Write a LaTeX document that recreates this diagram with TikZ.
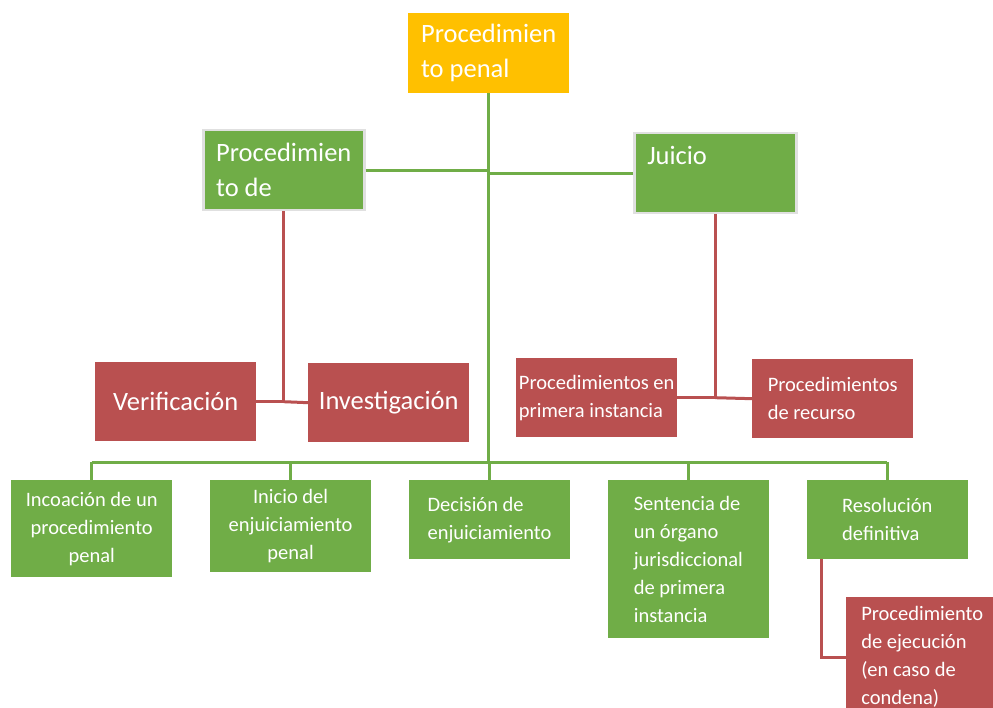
\documentclass[tikz,border=0pt]{standalone}
\usepackage{fontspec}
\setmainfont{Carlito}
\usetikzlibrary{positioning}
\definecolor{boxorange}{HTML}{FFC000}
\definecolor{boxgreen}{HTML}{70AD47}
\definecolor{boxred}{RGB}{185,80,80}
\tikzset{
  box/.style = {rectangle, anchor=north west, inner sep=0pt, text=white, minimum width=161pt},
  bigbox/.style = {box, font=\fontsize{26.5}{35}\selectfont, minimum height=80pt},
  smallbox/.style = {box, font=\fontsize{20.5}{28}\selectfont, minimum height=79pt},
  head/.style = {bigbox, fill=boxorange, align=left},
  stage/.style = {bigbox, fill=boxgreen, draw=black!12, line width=2.5pt, align=left},
  task/.style = {bigbox, fill=boxred, align=center, minimum height=79pt},
  subtask/.style = {smallbox, fill=boxred, align=left},
  phase/.style = {smallbox, fill=boxgreen, align=left},
  gline/.style = {draw=boxgreen, line width=3pt},
  rline/.style = {draw=boxred, line width=3pt}
}

\begin{document}
\begin{tikzpicture}[x=1pt, y=-1pt, node distance=37.5pt]
\useasboundingbox (0,0) rectangle (993,708);
\clip (0,0) rectangle (993,708);

% Top
\node[head] (penal) at (408,13) {Procedimien\\to penal};

% Second level
\node[stage, minimum width=161pt] (instruccion) at (202,129) {Procedimien\\to de};
\node[stage, minimum width=162pt, text width=136pt] (juicio) at (633,132) {Juicio\\\mbox{}};

% Third level
\node[task] (verificacion) at (95,362) {Verificación};
\node[task] (investigacion) at (308,363) {Investigación};
\node[subtask] (primera) at (516,358) {Procedimientos en\\primera instancia};
\node[subtask] (recurso) at (752,359) {Procedimientos\\de recurso};

% Bottom row
\node[phase, align=center, minimum height=97pt] (incoacion) at (11,480) {Incoación de un\\procedimiento\\penal};
\node[phase, align=center, minimum height=92pt, right=of incoacion.north east, anchor=north west] (inicio) {Inicio del\\enjuiciamiento\\penal};
\node[phase, right=of inicio.north east, anchor=north west] (decision) {Decisión de\\enjuiciamiento};
\node[phase, minimum height=158pt, right=of decision.north east, anchor=north west] (sentencia) {Sentencia de\\un órgano\\jurisdiccional\\de primera\\instancia};
\node[phase, right=of sentencia.north east, anchor=north west] (resolucion) {Resolución\\definitiva};
\node[subtask, minimum width=152pt, minimum height=120pt] (ejecucion) at (846,597) {Procedimiento\\de ejecución\\(en caso de\\condena)};

% Connectors
\coordinate (bus) at (488,462);
\draw[gline] (penal.south) -- (penal.south |- bus);
\draw[gline] (instruccion.east) -- (instruccion.east -| penal.south);
\draw[gline] (juicio.west) -- (juicio.west -| penal.south);
\draw[gline] (incoacion.north |- bus) -- (resolucion.north |- bus);
\foreach \n in {incoacion, inicio, decision, sentencia, resolucion}
  \draw[gline] (\n.north |- bus) -- (\n.north);

\draw[rline] (instruccion.south) |- (verificacion.east);
\draw[rline] (instruccion.south |- verificacion.east) -- (investigacion.west);
\draw[rline] (juicio.south) |- (primera.east);
\draw[rline] (juicio.south |- primera.east) -- (recurso.west);
\draw[rline] ([xshift=15pt]resolucion.south west) |- (ejecucion.west);

\end{tikzpicture}
\end{document}
